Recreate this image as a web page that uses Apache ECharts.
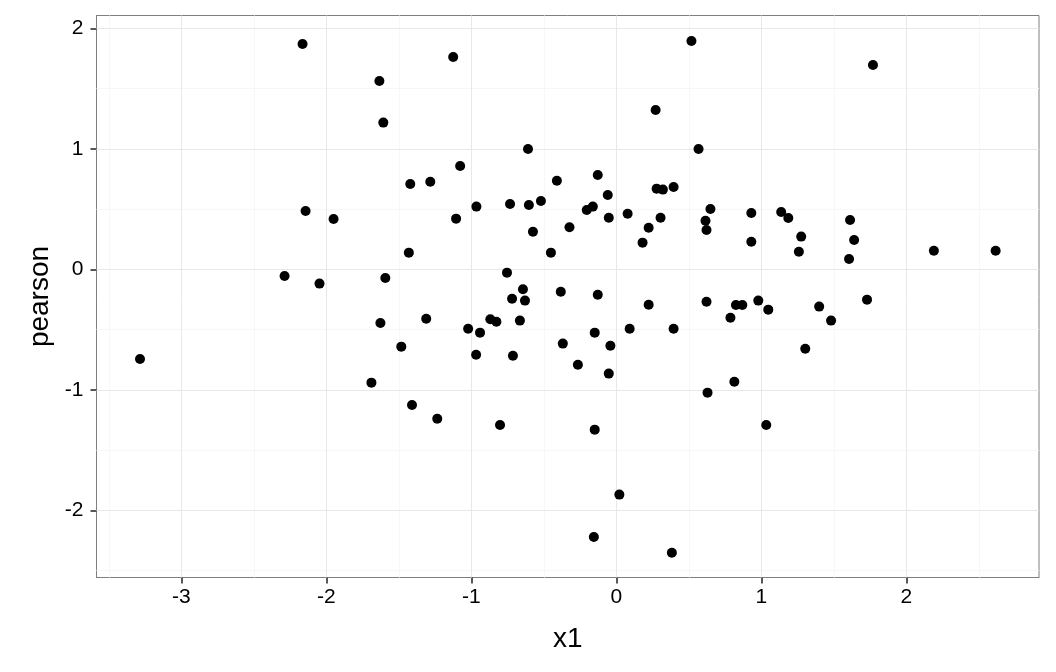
<!DOCTYPE html>
<html>
<head>
<meta charset="utf-8">
<script src="https://cdn.jsdelivr.net/npm/echarts@6/dist/echarts.min.js"></script>
<style>
html,body{margin:0;padding:0;background:#fff;}
#chart{width:1056px;height:672px;}
</style>
</head>
<body>
<div id="chart"></div>
<script>
const x1 = [-2.164,-1.634,-1.607,-1.421,-1.125,0.518,0.271,-0.609,0.567,-1.077,
  -1.283,-0.410,-0.128,-0.059,0.278,0.321,0.395,1.770,-2.143,-1.950,
  -1.431,-2.288,-2.047,-1.593,-1.627,-1.483,-3.285,-1.689,-0.965,-0.733,
  -0.603,-0.520,-1.105,-0.204,-0.162,-0.052,0.078,0.305,0.223,0.181,
  0.649,0.615,0.622,-0.575,-0.323,-0.451,-0.754,-0.644,-0.719,-0.630,
  -0.383,-0.128,0.223,0.622,-1.311,-0.869,-0.827,-0.665,-1.022,-0.940,
  -0.149,0.092,0.395,-0.369,-0.041,-0.967,-0.713,-0.265,-0.052,0.931,
  1.137,1.186,1.612,0.931,1.275,1.259,1.640,1.605,2.190,2.616,
  0.825,0.869,0.979,1.048,0.787,1.399,1.481,1.729,1.303,0.814,
  -1.409,-1.235,-0.802,-0.149,0.629,0.021,-0.155,0.383,1.034];
const pearson = [1.870,1.563,1.217,0.708,1.762,1.895,1.322,0.998,0.998,0.857,
  0.727,0.735,0.783,0.617,0.669,0.661,0.683,1.695,0.484,0.417,
  0.138,-0.056,-0.119,-0.072,-0.446,-0.642,-0.744,-0.941,0.520,0.542,
  0.534,0.567,0.420,0.492,0.520,0.428,0.461,0.428,0.345,0.221,
  0.500,0.403,0.326,0.312,0.348,0.138,-0.028,-0.166,-0.244,-0.260,
  -0.186,-0.211,-0.294,-0.269,-0.410,-0.415,-0.435,-0.426,-0.493,-0.526,
  -0.526,-0.493,-0.493,-0.617,-0.634,-0.709,-0.717,-0.792,-0.866,0.467,
  0.476,0.426,0.409,0.229,0.271,0.146,0.243,0.085,0.154,0.154,
  -0.296,-0.296,-0.260,-0.335,-0.402,-0.310,-0.426,-0.252,-0.659,-0.933,
  -1.126,-1.240,-1.292,-1.331,-1.024,-1.870,-2.222,-2.352,-1.292];

const xTicks = [-3,-2,-1,0,1,2];
const yTicks = [-2,-1,0,1,2];
const xMinor = [-3.5,-2.5,-1.5,-0.5,0.5,1.5,2.5];
const yMinor = [-2.5,-1.5,-0.5,0.5,1.5];
const xRange = [-3.585, 2.915];
const yRange = [-2.558, 2.106];

const points = x1.map((v, i) => [v, pearson[i]]);

const lineMark = (color, data) => ({
  silent: true, animation: false, symbol: ['none','none'],
  label: {show: false}, emphasis: {disabled: true},
  lineStyle: {color: color, width: 1, type: 'solid'},
  data: data
});

const chart = echarts.init(document.getElementById('chart'), null, {renderer: 'canvas'});
const font = 'Liberation Sans, Arial, sans-serif';
chart.setOption({
  animation: false,
  backgroundColor: '#ffffff',
  grid: {left: 96.5, right: 17, top: 15.5, bottom: 94.5, show: true,
         borderColor: '#7f7f7f', borderWidth: 1, backgroundColor: '#ffffff', containLabel: false},
  xAxis: {
    type: 'value', min: xRange[0], max: xRange[1],
    name: 'x1', nameLocation: 'middle', nameGap: 48,
    nameTextStyle: {fontFamily: font, fontSize: 28, color: '#000'},
    axisLine: {show: true, onZero: false, lineStyle: {color: '#7f7f7f', width: 1}},
    axisTick: {show: true, customValues: xTicks, length: 6, lineStyle: {color: '#222', width: 1.5}},
    axisLabel: {customValues: xTicks, fontFamily: font, fontSize: 21, color: '#000', margin: 9},
    splitLine: {show: false}
  },
  yAxis: {
    type: 'value', min: yRange[0], max: yRange[1],
    name: 'pearson', nameLocation: 'middle', nameGap: 40, nameRotate: 90,
    nameTextStyle: {fontFamily: font, fontSize: 28, color: '#000'},
    axisLine: {show: true, onZero: false, lineStyle: {color: '#7f7f7f', width: 1}},
    axisTick: {show: true, customValues: yTicks, length: 6, lineStyle: {color: '#222', width: 1.5}},
    axisLabel: {customValues: yTicks, fontFamily: font, fontSize: 21, color: '#000', margin: 13},
    splitLine: {show: false}
  },
  series: [
    {type: 'scatter', data: [], z: 1, silent: true,
     markLine: lineMark('#f7f7f7', xMinor.map(v => ({xAxis: v})).concat(yMinor.map(v => ({yAxis: v}))))},
    {type: 'scatter', data: [], z: 2, silent: true,
     markLine: lineMark('#e8e8e8', xTicks.map(v => ({xAxis: v})).concat(yTicks.map(v => ({yAxis: v}))))},
    {type: 'scatter', data: points, z: 5, symbol: 'circle', symbolSize: 10,
     itemStyle: {color: '#000000', opacity: 1}}
  ]
});
</script>
</body>
</html>
